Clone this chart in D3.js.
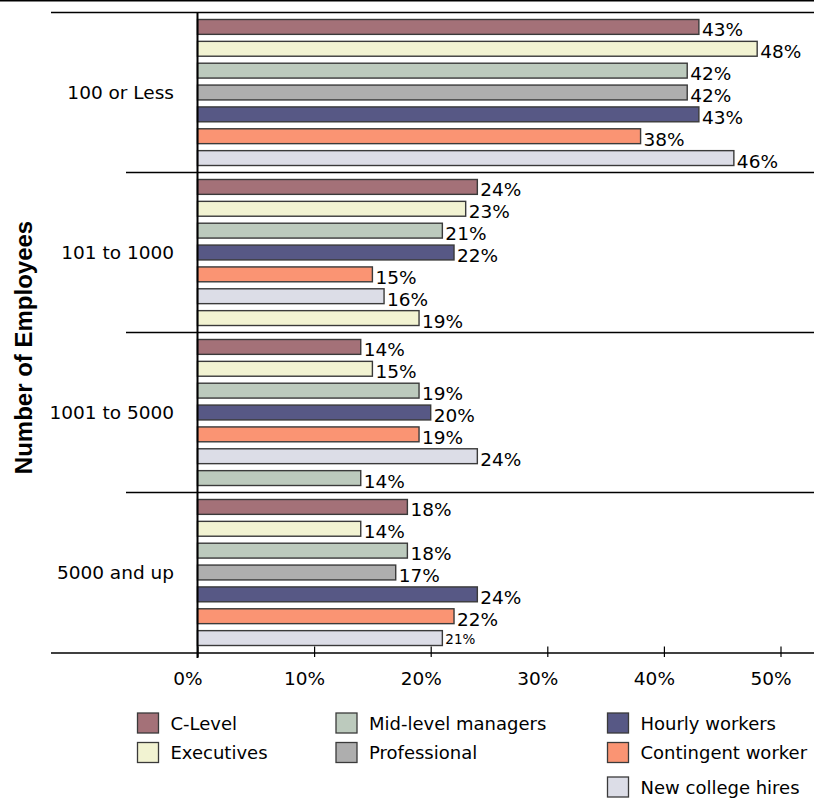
<!DOCTYPE html>
<html>
<head>
<meta charset="utf-8">
<script src="https://cdn.jsdelivr.net/npm/d3@7"></script>
<style>
  body { margin: 0; background: #fff; }
  svg { display: block; }
</style>
</head>
<body>
<script>
// groups on the y axis
const groups = ["100 or Less", "101 to 1000", "1001 to 5000", "5000 and up"];

// series names + colours (legend order)
const seriesNames = ["C-Level", "Executives", "Mid-level managers", "Professional",
                     "Hourly workers", "Contingent worker", "New college hires"];
const seriesColors = ["#a47178", "#f2f3d2", "#bccabd", "#aeaeae", "#575885", "#fa9473", "#dcdde7"];

// which series each bar belongs to, per group (as in the source chart)
const groupSeries = [
  ["C-Level", "Executives", "Mid-level managers", "Professional", "Hourly workers", "Contingent worker", "New college hires"],
  ["C-Level", "Executives", "Mid-level managers", "Hourly workers", "Contingent worker", "New college hires", "Executives"],
  ["C-Level", "Executives", "Mid-level managers", "Hourly workers", "Contingent worker", "New college hires", "Mid-level managers"],
  ["C-Level", "Executives", "Mid-level managers", "Professional", "Hourly workers", "Contingent worker", "New college hires"]
];
const groupValues = [
  [43, 48, 42, 42, 43, 38, 46],
  [24, 23, 21, 22, 15, 16, 19],
  [14, 15, 19, 20, 19, 24, 14],
  [18, 14, 18, 17, 24, 22, 21]
];

const xTicks = [0, 10, 20, 30, 40, 50];

// legend columns
const legendCols = [
  ["C-Level", "Executives"],
  ["Mid-level managers", "Professional"],
  ["Hourly workers", "Contingent worker", "New college hires"]
];

const width = 814, height = 800;
const font = "'DejaVu Sans', Verdana, sans-serif";

const svg = d3.select("body").append("svg")
  .attr("width", width)
  .attr("height", height)
  .style("font-family", font);

const color = d3.scaleOrdinal().domain(seriesNames).range(seriesColors);

const x = d3.scaleLinear().domain([0, 50]).range([197.5, 780.5]);
const y0 = d3.scaleBand().domain(groups).range([12.5, 652.5]);
const y1 = d3.scaleBand().domain(d3.range(7)).range([0, y0.bandwidth()]).padding(0.32);

// frame lines
svg.append("line").attr("x1", 0).attr("x2", width).attr("y1", 0.75).attr("y2", 0.75)
  .attr("stroke", "#000").attr("stroke-width", 1.5);
svg.append("line").attr("x1", 51).attr("x2", width).attr("y1", 12.5).attr("y2", 12.5)
  .attr("stroke", "#000").attr("stroke-width", 1.5);

// group separators
svg.selectAll(".sep")
  .data(groups.slice(1))
  .enter().append("line")
  .attr("class", "sep")
  .attr("x1", 126).attr("x2", width)
  .attr("y1", d => y0(d)).attr("y2", d => y0(d))
  .attr("stroke", "#000").attr("stroke-width", 1.5);

// bars
const rows = [];
groups.forEach((g, gi) => {
  groupValues[gi].forEach((v, i) => {
    rows.push({ group: g, gi: gi, i: i, series: groupSeries[gi][i], value: v });
  });
});

const bar = svg.selectAll(".bar")
  .data(rows)
  .enter().append("g")
  .attr("class", "bar")
  .attr("transform", d => `translate(0,${y0(d.group) + y1(d.i)})`);

bar.append("rect")
  .attr("x", x(0))
  .attr("y", 0)
  .attr("width", d => x(d.value) - x(0))
  .attr("height", y1.bandwidth())
  .attr("fill", d => color(d.series))
  .attr("stroke", "#3a3a3a")
  .attr("stroke-width", 1.4);

// the very last label is smaller in the original
bar.append("text")
  .attr("x", d => x(d.value) + 3)
  .attr("y", d => (d.gi === 3 && d.i === 6) ? y1.bandwidth() - 1.5 : y1.bandwidth() + 2)
  .style("font-size", d => (d.gi === 3 && d.i === 6) ? "13.5px" : "18.5px")
  .style("fill", "#000")
  .text(d => d.value + "%");

// group labels
svg.selectAll(".glabel")
  .data(groups)
  .enter().append("text")
  .attr("class", "glabel")
  .attr("x", 174)
  .attr("y", d => y0(d) + y0.bandwidth() / 2 + 6.5)
  .attr("text-anchor", "end")
  .style("font-size", "18.5px")
  .text(d => d);

// vertical axis line
svg.append("line").attr("x1", x(0)).attr("x2", x(0)).attr("y1", 12.5).attr("y2", 658)
  .attr("stroke", "#000").attr("stroke-width", 2);

// x axis
svg.append("line").attr("x1", 51).attr("x2", width).attr("y1", 653).attr("y2", 653)
  .attr("stroke", "#000").attr("stroke-width", 1.5);

const xAxis = svg.append("g")
  .attr("transform", "translate(0,653)")
  .call(d3.axisBottom(x).tickValues(xTicks).tickFormat(d => d + "%").tickSize(0));
xAxis.select(".domain").remove();
xAxis.selectAll(".tick line")
  .attr("y1", -6.5).attr("y2", 4)
  .attr("stroke", "#000").attr("stroke-width", 1.2);
xAxis.selectAll(".tick text")
  .attr("font-family", null)
  .attr("font-size", null)
  .style("font-family", font)
  .style("font-size", "18.5px")
  .attr("fill", "#000")
  .attr("dy", null)
  .attr("y", 32)
  .attr("dx", -10);
xAxis.attr("font-family", null).attr("font-size", null);

// y title
svg.append("text")
  .attr("transform", "translate(32,347.5) rotate(-90)")
  .attr("text-anchor", "middle")
  .style("font-family", "'Liberation Sans', Arial, sans-serif")
  .style("font-weight", "bold")
  .style("font-size", "24px")
  .text("Number of Employees");

// legend
const colX = [137.5, 336, 607.5];
const rowY = [713, 742.5, 777];
legendCols.forEach((col, ci) => {
  col.forEach((name, ri) => {
    const g = svg.append("g").attr("transform", `translate(${colX[ci]},${rowY[ri]})`);
    g.append("rect")
      .attr("width", 21).attr("height", 20)
      .attr("fill", color(name))
      .attr("stroke", "#3a3a3a").attr("stroke-width", 1.3);
    g.append("text")
      .attr("x", 33).attr("y", 16.5)
      .style("font-size", "18px")
      .text(name);
  });
});
</script>
</body>
</html>
